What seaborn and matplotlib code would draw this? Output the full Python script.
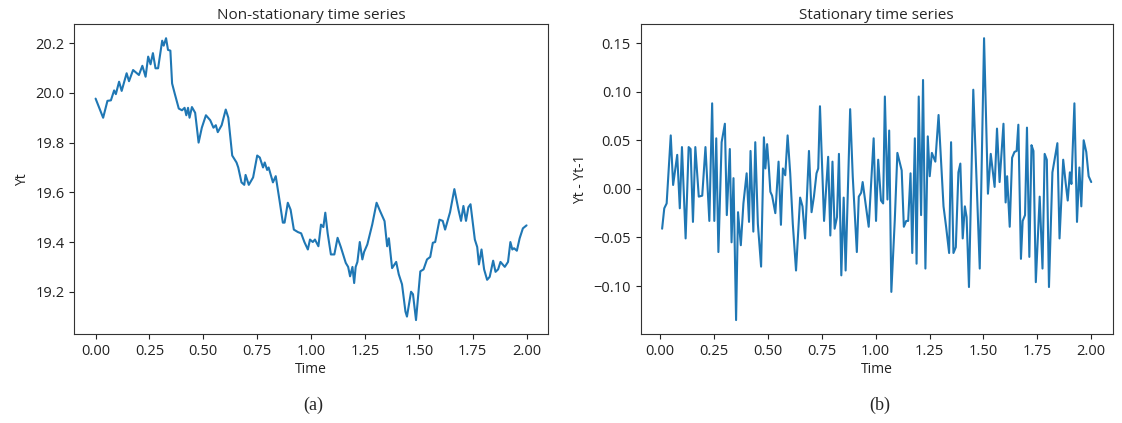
import matplotlib
matplotlib.use('Agg')
import matplotlib.pyplot as plt
import seaborn as sns

# values
time_a = [0.00, 0.035, 0.055, 0.071, 0.086, 0.094, 0.109, 0.121, 0.144, 0.155,
          0.174, 0.201, 0.217, 0.232, 0.244, 0.255, 0.266, 0.278, 0.290, 0.309,
          0.316, 0.327, 0.336, 0.347, 0.355, 0.367, 0.386, 0.401, 0.413, 0.421,
          0.429, 0.436, 0.447, 0.462, 0.478, 0.493, 0.512, 0.532, 0.547, 0.558,
          0.567, 0.585, 0.604, 0.616, 0.634, 0.654, 0.662, 0.677, 0.690, 0.696,
          0.711, 0.731, 0.750, 0.762, 0.777, 0.785, 0.796, 0.803, 0.823, 0.836,
          0.854, 0.869, 0.877, 0.892, 0.905, 0.920, 0.939, 0.954, 0.969, 0.985,
          0.995, 1.008, 1.018, 1.034, 1.046, 1.057, 1.066, 1.077, 1.092, 1.108,
          1.123, 1.138, 1.161, 1.172, 1.181, 1.192, 1.200, 1.207, 1.215, 1.226,
          1.238, 1.246, 1.261, 1.284, 1.304, 1.320, 1.341, 1.353, 1.361, 1.376,
          1.395, 1.407, 1.422, 1.438, 1.445, 1.464, 1.473, 1.487, 1.507, 1.522,
          1.538, 1.553, 1.565, 1.576, 1.596, 1.611, 1.622, 1.645, 1.665, 1.684,
          1.696, 1.707, 1.719, 1.730, 1.740, 1.760, 1.771, 1.779, 1.791, 1.803,
          1.817, 1.829, 1.845, 1.856, 1.868, 1.879, 1.899, 1.914, 1.925, 1.934,
          1.942, 1.955, 1.968, 1.983, 2.00]
yt = [19.977, 19.90, 19.968, 19.97, 20.01, 19.995, 20.045, 20.008, 20.079, 20.047,
      20.092, 20.072, 20.109, 20.065, 20.146, 20.115, 20.16, 20.099, 20.099, 20.21,
      20.19, 20.22, 20.173, 20.17, 20.038, 19.998, 19.937, 19.93, 19.94, 19.91,
      19.94, 19.90, 19.943, 19.92, 19.80, 19.86, 19.91, 19.89, 19.86, 19.87,
      19.842, 19.87, 19.933, 19.90, 19.748, 19.72, 19.70, 19.64, 19.63, 19.67,
      19.63, 19.66, 19.748, 19.74, 19.70, 19.72, 19.69, 19.70, 19.64, 19.665,
      19.565, 19.478, 19.478, 19.558, 19.53, 19.45, 19.44, 19.435, 19.40, 19.37,
      19.41, 19.40, 19.41, 19.383, 19.47, 19.46, 19.518, 19.435, 19.35, 19.35,
      19.417, 19.38, 19.316, 19.30, 19.262, 19.30, 19.235, 19.30, 19.32, 19.40,
      19.33, 19.36, 19.39, 19.471, 19.558, 19.525, 19.484, 19.383, 19.415, 19.295,
      19.32, 19.27, 19.23, 19.12, 19.10, 19.20, 19.19, 19.086, 19.282, 19.29,
      19.33, 19.34, 19.397, 19.40, 19.49, 19.485, 19.45, 19.52, 19.613, 19.53,
      19.485, 19.545, 19.485, 19.54, 19.552, 19.41, 19.38, 19.31, 19.37, 19.29,
      19.248, 19.26, 19.325, 19.28, 19.29, 19.32, 19.30, 19.32, 19.40, 19.37,
      19.375, 19.365, 19.415, 19.455, 19.467]

time_b = [0.010, 0.020, 0.031, 0.050, 0.061, 0.080, 0.092, 0.102, 0.119, 0.133,
          0.142, 0.153, 0.164, 0.180, 0.196, 0.211, 0.229, 0.242, 0.252, 0.261,
          0.271, 0.286, 0.301, 0.310, 0.324, 0.332, 0.341, 0.353, 0.362, 0.375,
          0.387, 0.402, 0.413, 0.420, 0.433, 0.442, 0.454, 0.469, 0.482, 0.489,
          0.497, 0.505, 0.512, 0.520, 0.535, 0.550, 0.561, 0.570, 0.581, 0.592,
          0.604, 0.616, 0.631, 0.650, 0.661, 0.673, 0.691, 0.703, 0.714, 0.726,
          0.734, 0.742, 0.761, 0.780, 0.790, 0.800, 0.810, 0.821, 0.830, 0.841,
          0.852, 0.861, 0.882, 0.894, 0.913, 0.922, 0.933, 0.940, 0.968, 0.991,
          1.002, 1.012, 1.025, 1.035, 1.043, 1.055, 1.063, 1.073, 1.089, 1.101,
          1.121, 1.131, 1.142, 1.151, 1.162, 1.170, 1.182, 1.190, 1.200, 1.211,
          1.220, 1.231, 1.242, 1.251, 1.261, 1.277, 1.292, 1.315, 1.327, 1.341,
          1.350, 1.361, 1.372, 1.384, 1.393, 1.404, 1.414, 1.422, 1.433, 1.453,
          1.483, 1.503, 1.521, 1.534, 1.552, 1.563, 1.575, 1.593, 1.603, 1.610,
          1.622, 1.633, 1.644, 1.654, 1.662, 1.674, 1.682, 1.693, 1.702, 1.713,
          1.723, 1.732, 1.743, 1.761, 1.774, 1.784, 1.794, 1.804, 1.820, 1.830,
          1.843, 1.853, 1.870, 1.881, 1.891, 1.901, 1.908, 1.922, 1.934, 1.945,
          1.954, 1.965, 1.977, 1.988, 2.000]
dyt = [-0.041, -0.020, -0.015, 0.055, 0.004, 0.035, -0.020, 0.043, -0.051, 0.043,
       0.041, -0.034, 0.043, -0.008, -0.007, 0.043, -0.033, 0.088, -0.033, 0.052,
       -0.065, 0.048, 0.067, -0.027, 0.041, -0.055, 0.011, -0.135, -0.024, -0.058,
       -0.015, 0.016, -0.034, 0.039, -0.044, 0.048, -0.036, -0.080, 0.053, 0.021,
       0.046, 0.022, -0.003, -0.007, -0.025, 0.028, -0.037, 0.021, 0.014, 0.055,
       0.016, -0.036, -0.084, -0.009, -0.018, -0.051, 0.039, -0.024, -0.008, 0.016,
       0.021, 0.085, -0.033, 0.033, -0.048, 0.028, -0.041, -0.029, 0.036, -0.089,
       -0.009, -0.084, 0.082, 0.013, -0.065, -0.008, -0.004, 0.007, -0.039, 0.052,
       -0.033, 0.030, -0.012, -0.015, 0.095, -0.011, 0.060, -0.106, -0.032, 0.037,
       0.019, -0.039, -0.033, -0.033, 0.016, -0.066, 0.052, -0.077, 0.095, -0.027,
       0.112, -0.082, 0.054, 0.013, 0.037, 0.028, 0.076, -0.018, -0.039, -0.066,
       0.048, -0.066, -0.060, 0.017, 0.026, -0.051, -0.018, -0.029, -0.101, 0.102,
       -0.082, 0.155, -0.005, 0.036, 0.002, 0.062, 0.007, 0.067, -0.014, 0.013,
       -0.039, 0.032, 0.038, 0.039, 0.066, -0.072, -0.033, -0.027, 0.063, -0.070,
       0.045, 0.039, -0.096, -0.008, -0.082, 0.036, 0.030, -0.101, 0.017, 0.030,
       0.047, -0.051, 0.030, 0.007, -0.012, 0.017, 0.005, 0.088, -0.034, 0.022,
       -0.018, 0.050, 0.038, 0.013, 0.007]

sns.set_style('ticks')
plt.rcParams['font.family'] = ['Open Sans', 'DejaVu Sans']
plt.rcParams['font.size'] = 10
plt.rcParams['axes.edgecolor'] = '#333333'

fig = plt.figure(figsize=(11.22, 4.23), dpi=100)
ax1 = fig.add_axes([0.066, 0.21, 0.4225, 0.733])
ax2 = fig.add_axes([0.571, 0.21, 0.4207, 0.733])

# left panel - the raw random walk
sns.lineplot(x=time_a, y=yt, ax=ax1, color='#1f77b4', linewidth=1.5, estimator=None)
ax1.set_title('Non-stationary time series', fontsize=11, pad=4)
ax1.set_xlabel('Time', labelpad=2)
ax1.set_ylabel('Yt')
ax1.set_xticks([0, 0.25, 0.5, 0.75, 1.0, 1.25, 1.5, 1.75, 2.0])
ax1.xaxis.set_major_formatter(matplotlib.ticker.FormatStrFormatter('%.2f'))

# right panel - first differences
sns.lineplot(x=time_b, y=dyt, ax=ax2, color='#1f77b4', linewidth=1.5, estimator=None)
ax2.set_title('Stationary time series', fontsize=11, pad=4)
ax2.set_xlabel('Time', labelpad=2)
ax2.set_ylabel('Yt - Yt-1')
ax2.set_xticks([0, 0.25, 0.5, 0.75, 1.0, 1.25, 1.5, 1.75, 2.0])
ax2.xaxis.set_major_formatter(matplotlib.ticker.FormatStrFormatter('%.2f'))

for ax in (ax1, ax2):
    ax.tick_params(labelsize=10.5, colors='#222222', length=3.5)
    ax.xaxis.label.set_color('#222222')
    ax.yaxis.label.set_color('#222222')

fig.text(0.279, 0.03, '(a)', ha='center', family='Liberation Serif', fontsize=13)
fig.text(0.784, 0.03, '(b)', ha='center', family='Liberation Serif', fontsize=13)

fig.savefig('out.png', dpi=100, facecolor='white')
